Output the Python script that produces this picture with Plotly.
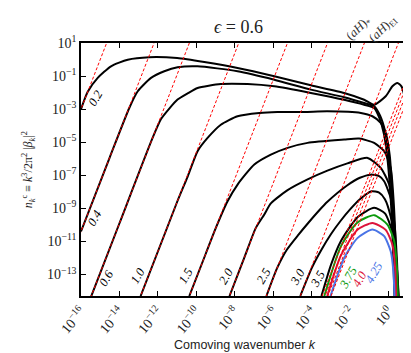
"""
n_k^c spectrum vs comoving wavenumber k, for epsilon = 0.6
"""

import numpy as np
import plotly.graph_objects as go


# ---------------------------------------------------------------------------
# data: log10 k and log10 n_k, one pair per mass
# ---------------------------------------------------------------------------

logk_02 = [-16.0, -15.65, -15.13, -14.44, -13.57, -12.45, -11.0, -9.59, -7.86, -5.95,
           -4.05, -2.32, -1.28, -0.76, -0.16, 0.19, 0.45, 0.66, 0.8, 0.9, 1.0]
logn_02 = [-3.0, -1.95, -1.11, -0.41, -0.01, 0.14, 0.09, -0.15, -0.51, -1.01,
           -1.56, -2.02, -2.43, -2.73, -2.22, -1.62, -1.42, -1.62, -2.12, -2.63, -3.03]

logk_04 = [-16.0, -14.5, -13.49, -13.05, -12.36, -11.67, -10.98, -9.94, -7.86, -5.95,
           -4.05, -2.32, -1.28, -0.76, -0.45, -0.2, 0.0, 0.15, 0.25, 0.32]
logn_04 = [-10.4, -5.9, -2.93, -1.92, -1.11, -0.71, -0.47, -0.41, -0.71, -1.22,
           -1.82, -2.28, -2.63, -2.83, -3.4, -4.3, -5.8, -8.0, -11.0, -14.4]

logk_06 = [-15.53, -14.0, -12.3, -11.84, -11.4, -10.98, -10.46, -9.94, -8.73, -7.34,
           -5.95, -4.05, -2.32, -1.28, -0.76, -0.5, -0.25, -0.05, 0.12, 0.22, 0.3]
logn_06 = [-14.5, -9.9, -4.8, -3.6, -2.95, -2.42, -2.05, -1.72, -1.48, -1.48,
           -1.62, -2.02, -2.43, -2.73, -2.93, -3.5, -4.5, -6.2, -8.8, -11.5, -14.4]

logk_10 = [-12.9, -11.0, -10.45, -9.94, -9.42, -8.73, -7.86, -6.73, -5.79, -4.39,
           -3.19, -1.45, -0.85, -0.42, -0.16, 0.05, 0.2, 0.3, 0.38]
logn_10 = [-14.3, -8.6, -7.06, -5.54, -4.74, -3.94, -3.43, -3.23, -3.17, -3.17,
           -3.13, -3.23, -3.43, -3.83, -4.44, -5.8, -8.5, -11.5, -14.4]

logk_15 = [-10.37, -9.5, -8.99, -8.38, -7.86, -6.99, -6.13, -5.26, -4.22, -2.32,
           -1.54, -0.76, -0.24, 0.1, 0.25, 0.35, 0.42]
logn_15 = [-14.3, -11.7, -10.18, -8.57, -7.56, -6.35, -5.75, -5.34, -5.04, -4.84,
           -4.78, -5.04, -5.54, -6.55, -8.5, -11.0, -14.4]

logk_20 = [-8.28, -7.5, -6.91, -6.47, -6.13, -5.26, -4.22, -3.19, -2.15, -1.1,
           -0.42, 0.02, 0.2, 0.35, 0.45]
logn_20 = [-14.3, -11.95, -10.18, -9.37, -8.7, -7.9, -7.25, -6.72, -6.28, -5.95,
           -6.55, -7.56, -9.0, -11.5, -14.4]

logk_25 = [-6.36, -5.8, -5.3, -4.7, -4.2, -3.6, -3.19, -2.15, -1.5, -0.94,
           -0.5, -0.24, 0.1, 0.3, 0.42, 0.5]
logn_25 = [-14.3, -12.6, -11.5, -10.6, -9.9, -9.1, -8.6, -7.6, -7.15, -6.96,
           -7.05, -7.36, -8.37, -10.0, -12.0, -14.4]

logk_30 = [-4.6, -4.0, -3.5, -3.0, -2.5, -2.0, -1.5, -0.9, -0.5, -0.2,
           0.1, 0.3, 0.45, 0.52]
logn_30 = [-14.3, -12.6, -11.5, -10.55, -9.75, -9.05, -8.45, -7.97, -8.05, -8.45,
           -9.5, -11.0, -13.0, -14.4]

logk_35 = [-3.5, -3.0, -2.5, -1.6, -0.76, -0.2, 0.15, 0.38, 0.5]
logn_35 = [-14.3, -12.4, -11.0, -9.5, -8.97, -9.3, -10.3, -12.3, -14.4]

logk_375 = [-3.35, -2.49, -1.63, -0.76, -0.07, 0.28, 0.42, 0.47]
logn_375 = [-14.3, -11.3, -9.85, -9.41, -9.98, -10.98, -12.6, -14.4]

logk_40 = [-3.2, -2.49, -1.63, -0.85, -0.16, 0.19, 0.33, 0.38]
logn_40 = [-14.3, -11.85, -10.3, -9.88, -10.3, -11.2, -12.6, -14.4]

logk_425 = [-3.03, -2.32, -1.63, -0.85, -0.24, 0.1, 0.24, 0.3]
logn_425 = [-14.3, -12.0, -10.8, -10.28, -10.68, -11.6, -12.8, -14.4]

# log10 of the k^3 asymptote amplitude, same order as the curves
k3_coef = [45.0, 37.6, 32.1, 24.4, 16.8, 10.55, 4.8, -0.5, -3.9, -4.35, -4.8, -5.3]

mass_labels = ['0.2', '0.4', '0.6', '1.0', '1.5', '2.0', '2.5', '3.0', '3.5',
               '3.75', '4.0', '4.25']

# horizon scales
aH_star = 0.027
aH_end = 0.52

x_ticks = [1e-16, 1e-14, 1e-12, 1e-10, 1e-8, 1e-6, 1e-4, 1e-2, 1e0]
y_ticks = [1e-13, 1e-11, 1e-9, 1e-7, 1e-5, 1e-3, 1e-1, 1e1]


# ---------------------------------------------------------------------------
# figure
# ---------------------------------------------------------------------------

def pow_label(v):
    e = int(round(np.log10(v)))
    return f'10<sup>{str(e).replace("-", "−")}</sup>'


curves = [
    (logk_02, logn_02, 'black'),
    (logk_04, logn_04, 'black'),
    (logk_06, logn_06, 'black'),
    (logk_10, logn_10, 'black'),
    (logk_15, logn_15, 'black'),
    (logk_20, logn_20, 'black'),
    (logk_25, logn_25, 'black'),
    (logk_30, logn_30, 'black'),
    (logk_35, logn_35, 'black'),
    (logk_375, logn_375, '#0c9a0c'),
    (logk_40, logn_40, '#dc143c'),
    (logk_425, logn_425, '#4a74e6'),
]

# label anchor points (log10 k, log10 n)
label_pos = [(-15.25, -2.3), (-15.28, -9.6), (-14.68, -13.2), (-13.05, -13.1),
             (-10.55, -13.1), (-8.45, -13.1), (-6.5, -13.1), (-4.74, -13.15),
             (-3.7, -13.25), (-2.11, -13.22), (-1.5, -13.3), (-0.78, -12.9)]

SERIF = 'Liberation Serif'

fig = go.Figure()

for lk, ln, col in curves:
    fig.add_trace(go.Scatter(
        x=10 ** np.array(lk), y=10 ** np.array(ln), mode='lines',
        line=dict(color=col, width=2, shape='spline', smoothing=0.6),
        hoverinfo='skip', showlegend=False))

k_span = np.array([1e-17, 1e2])
for c in k3_coef:
    fig.add_trace(go.Scatter(
        x=k_span, y=10 ** c * k_span ** 3, mode='lines',
        line=dict(color='red', width=1, dash='3px,2px'),
        hoverinfo='skip', showlegend=False))

for kv in (aH_star, aH_end):
    fig.add_shape(type='line', xref='x', yref='paper',
                  x0=np.log10(kv), x1=np.log10(kv), y0=0, y1=1,
                  line=dict(color='#9a9a9a', width=1.2, dash='6px,4px'),
                  layer='below')

for (lx, ly), txt, (_, _, col) in zip(label_pos, mass_labels, curves):
    fig.add_annotation(x=lx, y=ly, xref='x', yref='y', text=f'<i>{txt}</i>',
                       textangle=-60, showarrow=False,
                       xanchor='center', yanchor='middle',
                       font=dict(family=SERIF, size=12.5, color=col))

for kv, txt in ((aH_star, '(<i>aH</i>)<sub>*</sub>'),
                (aH_end, '(<i>aH</i>)<sub>EI</sub>')):
    fig.add_annotation(x=np.log10(kv), y=1.055, xref='x', yref='paper',
                       text=txt, textangle=-45, showarrow=False,
                       xanchor='center', yanchor='middle',
                       font=dict(family=SERIF, size=12.5, color='#333'))

fig.add_annotation(x=0.482, y=1.064, xref='paper', yref='paper',
                   text='<i>ϵ</i> = 0.6', showarrow=False,
                   xanchor='center', yanchor='middle',
                   font=dict(family=SERIF, size=18, color='#222'))

fig.add_annotation(x=-0.16, y=0.5, xref='paper', yref='paper', textangle=-90,
                   text='<i>n</i><sub><i>k</i></sub><sup>c</sup> ≡ '
                        '<i>k</i><sup>3</sup>/2π<sup>2</sup> |<i>β</i><sub><i>k</i></sub>|<sup>2</sup>',
                   showarrow=False, xanchor='center', yanchor='middle',
                   font=dict(family=SERIF, size=12, color='#222'))

fig.add_annotation(x=0.5, y=-0.192, xref='paper', yref='paper',
                   text='Comoving wavenumber <i>k</i>', showarrow=False,
                   xanchor='center', yanchor='middle',
                   font=dict(family='Liberation Sans', size=12.5, color='#222'))

axis_style = dict(type='log', ticks='inside', ticklen=5, tickwidth=1, tickcolor='black',
                  showline=True, linecolor='black', linewidth=1.5, mirror='allticks',
                  showgrid=False, zeroline=False, automargin=False,
                  tickfont=dict(family=SERIF, size=14, color='#222'))

fig.update_layout(
    width=411, height=353,
    margin=dict(l=73, r=11, t=35, b=65),
    paper_bgcolor='white', plot_bgcolor='white',
    xaxis=dict(axis_style, range=[-16, 1], tickvals=x_ticks,
               ticktext=[pow_label(v) for v in x_ticks], tickangle=-50),
    yaxis=dict(axis_style, range=[-14.3, 1], tickvals=y_ticks,
               ticktext=[pow_label(v) for v in y_ticks]),
)

fig.write_html('out.html')
